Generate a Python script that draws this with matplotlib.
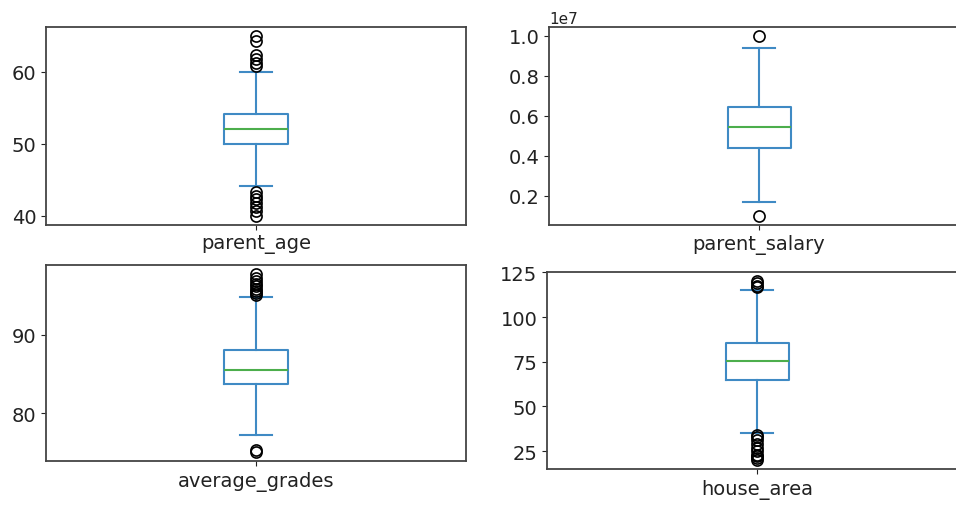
import matplotlib.pyplot as plt

plt.rcParams["font.family"] = ["DejaVu Sans"]

# five-number summaries, plus outliers
columns = ["parent_age", "parent_salary", "average_grades", "house_area"]
q1 = [50.0, 4.37e6, 83.7, 64.6]
median = [52.1, 5.42e6, 85.5, 75.3]
q3 = [54.1, 6.42e6, 88.1, 85.2]
whis_lo = [44.2, 1.67e6, 77.2, 35.3]
whis_hi = [60.0, 9.42e6, 94.8, 115.1]
fliers = [
    [65.0, 64.3, 62.3, 61.8, 61.3, 60.8, 43.3, 42.8, 42.3, 41.7, 41.2, 40.6, 40.0],
    [1.0e7, 1.0e6],
    [97.8, 97.2, 96.8, 96.5, 96.2, 95.9, 95.6, 95.3, 95.1, 75.3, 75.0],
    [120.0, 119.0, 117.5, 116.5, 34.0, 33.0, 31.0, 29.0, 27.0, 25.0, 23.0, 22.0, 21.0, 20.0],
]

# axes rectangles in pixels (left, top, right, bottom) of a 956x506 canvas
W, H = 956, 506
boxes_px = [
    (46, 28, 466, 225.7),
    (549, 28, 969, 225.7),
    (46, 265.7, 466, 462.3),
    (547, 273.3, 967, 470),
]

BLUE = "#3f8ac4"
GREEN = "#4cae4c"

fig = plt.figure(figsize=(W / 100, H / 100), dpi=100, facecolor="white")

for i, name in enumerate(columns):
    l, t, r, b = boxes_px[i]
    ax = fig.add_axes([l / W, 1 - b / H, (r - l) / W, (b - t) / H])
    stats = [{
        "label": name,
        "q1": q1[i], "med": median[i], "q3": q3[i],
        "whislo": whis_lo[i], "whishi": whis_hi[i],
        "fliers": fliers[i],
    }]
    ax.bxp(stats, positions=[1], widths=0.15,
           boxprops=dict(color=BLUE, linewidth=1.5),
           whiskerprops=dict(color=BLUE, linewidth=1.5),
           capprops=dict(color=BLUE, linewidth=1.5),
           medianprops=dict(color=GREEN, linewidth=1.5),
           flierprops=dict(marker="o", markerfacecolor="none",
                           markeredgecolor="black", markersize=8, markeredgewidth=1.2))
    ax.set_xlim(0.5, 1.5)
    ax.tick_params(labelsize=14, colors="#222222")
    for sp in ax.spines.values():
        sp.set_color("#444444")
        sp.set_linewidth(1.3)
    ax.yaxis.get_offset_text().set_fontsize(11)

fig.savefig("out.png", dpi=100, facecolor="white")
plt.close(fig)
